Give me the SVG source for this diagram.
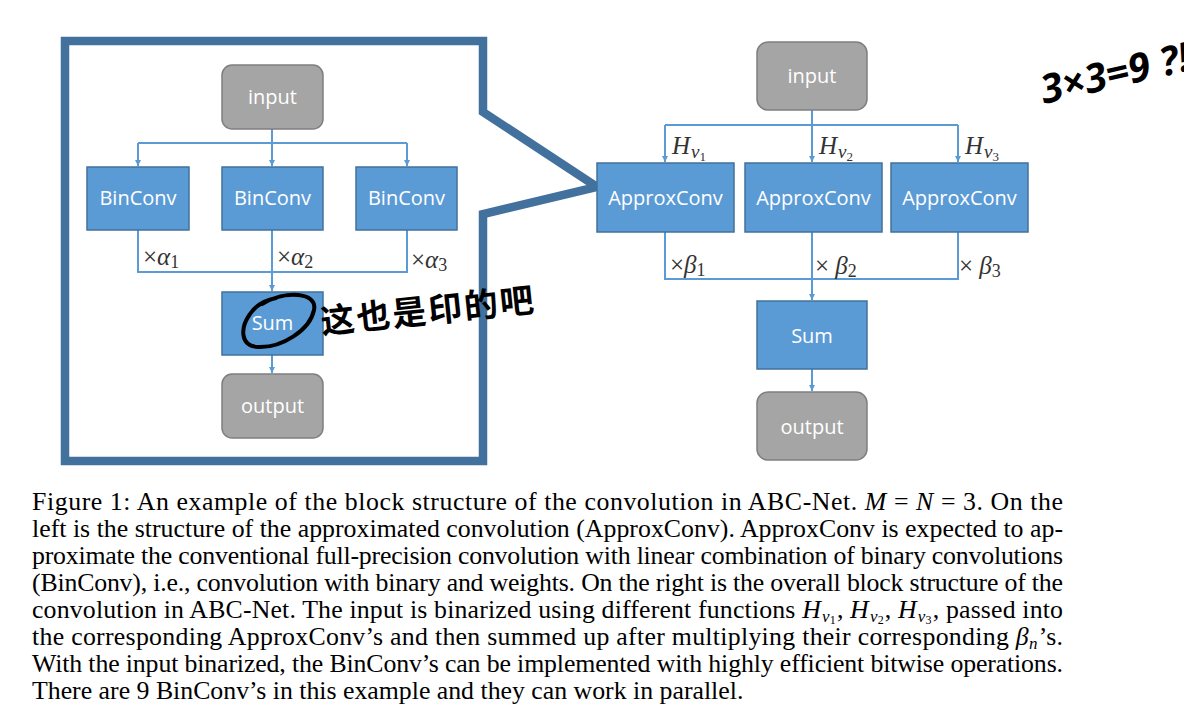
<svg xmlns="http://www.w3.org/2000/svg" width="1184" height="716" viewBox="0 0 1184 716">
<style>
.blue{fill:#5b9bd5;stroke:#41719c;stroke-width:1.5}
.gray{fill:#a5a5a5;stroke:#7f7f7f;stroke-width:1.5}
.lbl{font-family:"Open Sans","Noto Sans",sans-serif;font-size:20px;fill:#ffffff;text-anchor:middle}
.conn{fill:none;stroke:#5b9bd5;stroke-width:2}
.math{font-family:"Liberation Serif","DejaVu Serif",serif;font-size:25px;fill:#333333}
.it{font-style:italic}
.cap{font-family:"Liberation Serif","Times New Roman",serif;font-size:25.8px;fill:#000000}
.hand{fill:none;stroke:#000000;stroke-width:4;stroke-linecap:round;stroke-linejoin:round}
</style>
<defs>
<marker id="ah" viewBox="0 0 10 10" refX="10" refY="5" markerWidth="6" markerHeight="6" markerUnits="userSpaceOnUse" orient="auto">
<path d="M0,0 L10,5 L0,10 z" fill="#5b9bd5"/>
</marker>
</defs>
<rect width="1184" height="716" fill="#ffffff"/>

<g id="frame">
<polygon points="65,41 483,41 483,112 597,187 483,214 483,461 65,461" fill="none" stroke="#41719c" stroke-width="8.5" stroke-linejoin="miter"/>
</g>

<g id="connectors">
<path class="conn" d="M272,129 V143 M138,143 H407"/>
<path class="conn" d="M138,143 V166" marker-end="url(#ah)"/>
<path class="conn" d="M272,143 V166" marker-end="url(#ah)"/>
<path class="conn" d="M407,143 V166" marker-end="url(#ah)"/>
<path class="conn" d="M138,230 V272 H407 V230"/>
<path class="conn" d="M272,230 V291" marker-end="url(#ah)"/>
<path class="conn" d="M272,355 V373" marker-end="url(#ah)"/>

<path class="conn" d="M812,110 V125 M665,125 H958"/>
<path class="conn" d="M665,125 V162" marker-end="url(#ah)"/>
<path class="conn" d="M812,125 V162" marker-end="url(#ah)"/>
<path class="conn" d="M958,125 V162" marker-end="url(#ah)"/>
<path class="conn" d="M665,232 V279 H958 V232"/>
<path class="conn" d="M812,232 V300" marker-end="url(#ah)"/>
<path class="conn" d="M812,369 V391" marker-end="url(#ah)"/>
</g>

<g id="left-input"><rect class="gray" x="222" y="65" width="101" height="64" rx="10"/><text class="lbl" x="272.5" y="104">input</text></g>
<g id="left-binconv1"><rect class="blue" x="87" y="167" width="102" height="63"/><text class="lbl" x="138" y="205">BinConv</text></g>
<g id="left-binconv2"><rect class="blue" x="222" y="167" width="101" height="63"/><text class="lbl" x="272.5" y="205">BinConv</text></g>
<g id="left-binconv3"><rect class="blue" x="356" y="167" width="101" height="63"/><text class="lbl" x="406.5" y="205">BinConv</text></g>
<g id="left-sum"><rect class="blue" x="222" y="292" width="101" height="63"/><text class="lbl" x="272.5" y="330">Sum</text></g>
<g id="left-output"><rect class="gray" x="222" y="374" width="101" height="64" rx="10"/><text class="lbl" x="272.5" y="413">output</text></g>

<g id="right-input"><rect class="gray" x="757" y="42" width="110" height="68" rx="11"/><text class="lbl" x="812" y="83">input</text></g>
<g id="right-approx1"><rect class="blue" x="597" y="163" width="137" height="69"/><text class="lbl" x="665.5" y="205">ApproxConv</text></g>
<g id="right-approx2"><rect class="blue" x="745" y="163" width="137" height="69"/><text class="lbl" x="813.5" y="205">ApproxConv</text></g>
<g id="right-approx3"><rect class="blue" x="891" y="163" width="137" height="69"/><text class="lbl" x="959.5" y="205">ApproxConv</text></g>
<g id="right-sum"><rect class="blue" x="757" y="301" width="110" height="68"/><text class="lbl" x="812" y="343">Sum</text></g>
<g id="right-output"><rect class="gray" x="757" y="392" width="110" height="68" rx="11"/><text class="lbl" x="812" y="434">output</text></g>

<g id="labels">
<text class="math" x="143" y="265">×<tspan class="it">α</tspan><tspan font-size="18" dy="3">1</tspan></text>
<text class="math" x="277" y="265">×<tspan class="it">α</tspan><tspan font-size="18" dy="3">2</tspan></text>
<text class="math" x="411" y="268">×<tspan class="it">α</tspan><tspan font-size="18" dy="3">3</tspan></text>

<text class="math" x="670" y="273">×<tspan class="it">β</tspan><tspan font-size="18" dy="3">1</tspan></text>
<text class="math" x="815" y="274">× <tspan class="it">β</tspan><tspan font-size="18" dy="3">2</tspan></text>
<text class="math" x="959" y="274">× <tspan class="it">β</tspan><tspan font-size="18" dy="3">3</tspan></text>

<text class="math" x="672" y="154" font-size="27"><tspan class="it">H</tspan><tspan class="it" font-size="19" dx="1" dy="4">v</tspan><tspan font-size="13" dy="3">1</tspan></text>
<text class="math" x="819" y="154" font-size="27"><tspan class="it">H</tspan><tspan class="it" font-size="19" dx="1" dy="4">v</tspan><tspan font-size="13" dy="3">2</tspan></text>
<text class="math" x="965" y="154" font-size="27"><tspan class="it">H</tspan><tspan class="it" font-size="19" dx="1" dy="4">v</tspan><tspan font-size="13" dy="3">3</tspan></text>
</g>

<g id="caption">
<text class="cap" x="32" y="510" textLength="1031" lengthAdjust="spacing">Figure 1: An example of the block structure of the convolution in ABC-Net. <tspan class="it">M</tspan> = <tspan class="it">N</tspan> = 3. On the</text>
<text class="cap" x="32" y="537" textLength="1031" lengthAdjust="spacing">left is the structure of the approximated convolution (ApproxConv). ApproxConv is expected to ap-</text>
<text class="cap" x="32" y="564" textLength="1031" lengthAdjust="spacing">proximate the conventional full-precision convolution with linear combination of binary convolutions</text>
<text class="cap" x="32" y="591" textLength="1031" lengthAdjust="spacing">(BinConv), i.e., convolution with binary and weights. On the right is the overall block structure of the</text>
<text class="cap" x="32" y="618" textLength="1031" lengthAdjust="spacing">convolution in ABC-Net. The input is binarized using different functions <tspan class="it">H</tspan><tspan class="it" font-size="17" dx="1" dy="4">v</tspan><tspan font-size="12" dy="2">1</tspan><tspan dx="1" dy="-6">, </tspan><tspan class="it">H</tspan><tspan class="it" font-size="17" dx="1" dy="4">v</tspan><tspan font-size="12" dy="2">2</tspan><tspan dx="1" dy="-6">, </tspan><tspan class="it">H</tspan><tspan class="it" font-size="17" dx="1" dy="4">v</tspan><tspan font-size="12" dy="2">3</tspan><tspan dx="1" dy="-6">, passed into</tspan></text>
<text class="cap" x="32" y="645" textLength="1031" lengthAdjust="spacing">the corresponding ApproxConv’s and then summed up after multiplying their corresponding <tspan class="it">β</tspan><tspan class="it" font-size="17" dy="4">n</tspan><tspan dx="1" dy="-4">’s.</tspan></text>
<text class="cap" x="32" y="672" textLength="1031" lengthAdjust="spacing">With the input binarized, the BinConv’s can be implemented with highly efficient bitwise operations.</text>
<text class="cap" x="32" y="699">There are 9 BinConv’s in this example and they can work in parallel.</text>
</g>

<g id="handwriting">
<path class="hand" d="M262,304 C285,290 318,292 314,310 C310,330 282,348 258,347 C240,346 240,328 250,314 C256,305 266,300 276,298"/>
<text x="322" y="334" transform="rotate(-6 322 334)" font-family="'Noto Sans CJK SC',sans-serif" font-weight="bold" font-size="34" fill="#000000" textLength="214" lengthAdjust="spacing">这也是印的吧</text>
<text x="1044" y="104" transform="rotate(-13 1044 104)" font-family="'Noto Sans','DejaVu Sans',sans-serif" font-weight="bold" font-size="40" fill="#000000" font-style="italic">3×3=9 ?!</text>
</g>
</svg>
